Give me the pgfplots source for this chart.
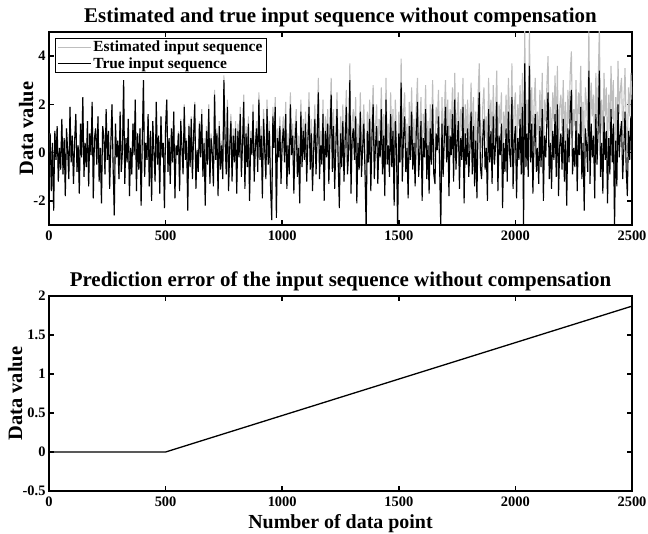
\documentclass[border=0pt]{standalone}
\usepackage{fontspec}
\setmainfont{Liberation Serif}
\usepackage{pgfplots}
\usepackage{pgfplotstable}
\pgfplotsset{compat=1.18}
\definecolor{estgray}{RGB}{190,190,190}
\pgfplotstableread{
x t e
5 0.8 0.8
10 -1.6 -1.6
15 0.4 0.4
20 -2.4 -2.4
25 0.9 0.9
30 -0.3 -0.3
35 1.1 1.1
40 -1.2 -1.2
45 0.2 0.2
50 -0.7 -0.7
55 1.4 1.4
60 -0.9 -0.9
65 0.6 0.6
70 -1.8 -1.8
75 1.0 1.0
80 0.1 0.1
85 -1.1 -1.1
90 1.9 1.9
95 -0.4 -0.4
100 0.7 0.7
105 -1.3 -1.3
110 0.5 0.5
115 1.6 1.6
120 -0.8 -0.8
125 0.3 0.3
130 -1.7 -1.7
135 1.2 1.2
140 -0.2 -0.2
145 2.3 2.3
150 -1.0 -1.0
155 0.4 0.4
160 -0.6 -0.6
165 1.3 1.3
170 -1.4 -1.4
175 0.8 0.8
180 -0.1 -0.1
185 2.1 2.1
190 -1.9 -1.9
195 0.6 0.6
200 1.0 1.0
205 -0.5 -0.5
210 1.5 1.5
215 -1.2 -1.2
220 0.2 0.2
225 -2.1 -2.1
230 1.1 1.1
235 0.7 0.7
240 -0.9 -0.9
245 1.8 1.8
250 -0.3 -0.3
255 0.9 0.9
260 -1.5 -1.5
265 0.3 0.3
270 2.0 2.0
275 -0.6 -0.6
280 -2.6 -2.6
285 1.2 1.2
290 -0.2 -0.2
295 0.5 0.5
300 -1.1 -1.1
305 1.7 1.7
310 -0.8 -0.8
315 0.1 0.1
320 3.0 3.0
325 -1.3 -1.3
330 0.6 0.6
335 -0.4 -0.4
340 1.4 1.4
345 -1.8 -1.8
350 0.2 0.2
355 -0.9 -0.9
360 1.2 1.2
365 -0.1 -0.1
370 2.2 2.2
375 -1.6 -1.6
380 0.8 0.8
385 -0.7 -0.7
390 1.0 1.0
395 -2.2 -2.2
400 0.5 0.5
405 3.0 3.0
410 -1.0 -1.0
415 0.4 0.4
420 -0.3 -0.3
425 1.6 1.6
430 -1.4 -1.4
435 0.9 0.9
440 -2.0 -2.0
445 1.3 1.3
450 0.0 0.0
455 -1.2 -1.2
460 2.1 2.1
465 -0.5 -0.5
470 0.7 0.7
475 -1.7 -1.7
480 1.5 1.5
485 -0.2 -0.2
490 0.4 0.4
495 -2.3 -2.3
500 1.1 1.1
505 2.2 2.2
510 -0.8 -0.8
515 0.6 0.6
520 -1.3 -1.3
525 1.0 1.0
530 -0.4 -0.4
535 1.7 1.7
540 -1.9 -1.9
545 0.3 0.3
550 -0.1 -0.1
555 0.8 0.9
560 -1.6 -1.5
565 1.3 1.4
570 0.2 0.3
575 -0.9 -0.8
580 1.9 2.0
585 -0.3 -0.2
590 0.5 0.6
595 -2.4 -2.3
600 1.1 1.2
605 -0.6 -0.5
610 1.4 1.5
615 -1.1 -1.0
620 0.7 0.8
625 2.0 2.1
630 -1.5 -1.4
635 0.1 0.2
640 -0.8 -0.7
645 1.2 1.3
650 -0.2 -0.1
655 1.6 1.8
660 -1.0 -0.8
665 0.4 0.6
670 -2.2 -2.0
675 0.9 1.1
680 -0.5 -0.3
685 1.8 2.0
690 -1.3 -1.1
695 0.6 0.8
700 0.0 0.2
705 -1.4 -1.2
710 2.4 2.6
715 -0.3 -0.1
720 0.8 1.0
725 -1.8 -1.6
730 1.1 1.3
735 -0.7 -0.5
740 0.3 0.5
745 -1.1 -0.9
750 3.0 3.2
755 0.5 0.8
760 -0.9 -0.6
765 1.9 2.2
770 -1.6 -1.3
775 0.2 0.5
780 1.3 1.6
785 -1.2 -0.9
790 0.7 1.0
795 -0.4 -0.1
800 1.0 1.3
805 -1.7 -1.4
810 0.9 1.2
815 -0.2 0.1
820 1.6 1.9
825 -1.0 -0.7
830 0.4 0.7
835 2.1 2.4
840 -1.5 -1.2
845 0.8 1.1
850 -0.6 -0.3
855 1.2 1.5
860 -2.0 -1.7
865 0.6 0.9
870 -0.1 0.2
875 1.7 2.0
880 -1.2 -0.9
885 0.3 0.6
890 1.0 1.3
895 -0.8 -0.5
900 2.2 2.5
905 -0.3 0.1
910 0.7 1.1
915 -1.9 -1.5
920 1.4 1.8
925 0.1 0.5
930 -1.1 -0.7
935 1.8 2.2
940 -0.5 -0.1
945 0.9 1.3
950 -1.4 -1.0
955 -2.8 -2.4
960 1.5 1.9
965 0.2 0.6
970 1.9 2.3
975 -2.7 -2.3
980 0.6 1.0
985 -0.2 0.2
990 1.1 1.5
995 -1.3 -0.9
1000 0.4 0.8
1005 1.0 1.5
1010 -0.4 0.1
1015 1.6 2.1
1020 -1.5 -1.0
1025 0.3 0.8
1030 -0.9 -0.4
1035 2.0 2.5
1040 -0.1 0.4
1045 0.7 1.2
1050 -1.7 -1.2
1055 0.5 1.0
1060 1.3 1.8
1065 -1.0 -0.5
1070 0.2 0.7
1075 -2.1 -1.6
1080 1.7 2.2
1085 -0.6 -0.1
1090 0.9 1.4
1095 -0.3 0.2
1100 1.2 1.7
1105 -1.2 -0.6
1110 0.4 1.0
1115 1.9 2.5
1120 -0.7 -0.1
1125 0.8 1.4
1130 -1.6 -1.0
1135 0.1 0.7
1140 1.4 2.0
1145 -0.9 -0.3
1150 0.6 1.2
1155 2.5 3.1
1160 -1.1 -0.5
1165 0.3 0.9
1170 -0.5 0.1
1175 1.6 2.2
1180 -2.0 -1.4
1185 0.9 1.5
1190 -0.2 0.4
1195 1.2 1.8
1200 -1.3 -0.7
1205 0.7 1.4
1210 2.4 3.1
1215 -0.8 -0.1
1220 1.1 1.8
1225 -1.5 -0.8
1230 0.2 0.9
1235 1.8 2.5
1240 -0.4 0.3
1245 -2.3 -1.6
1250 0.8 1.5
1255 -0.6 0.1
1260 1.3 2.0
1265 -1.2 -0.5
1270 0.5 1.2
1275 1.9 2.6
1280 -0.9 -0.2
1285 0.0 0.7
1290 3.0 3.7
1295 -1.7 -1.0
1300 0.6 1.3
1305 1.0 1.8
1310 -0.3 0.5
1315 1.5 2.3
1320 -2.1 -1.3
1325 0.4 1.2
1330 -0.7 0.1
1335 1.7 2.5
1340 -1.0 -0.2
1345 0.2 1.0
1350 1.2 2.0
1355 -0.8 0.0
1360 -3.2 -2.4
1365 0.9 1.7
1370 -0.4 0.4
1375 1.4 2.2
1380 -1.6 -0.8
1385 0.6 1.4
1390 2.0 2.8
1395 -1.1 -0.3
1400 0.3 1.1
1405 1.1 2.0
1410 -1.3 -0.4
1415 0.5 1.4
1420 -0.2 0.7
1425 1.8 2.7
1430 -0.9 0.0
1435 0.7 1.6
1440 -1.8 -0.9
1445 2.2 3.1
1450 -0.5 0.4
1455 0.3 1.2
1460 -1.0 -0.1
1465 1.6 2.5
1470 -0.6 0.3
1475 0.9 1.8
1480 -2.2 -1.3
1485 1.3 2.2
1490 0.1 1.0
1495 -3.2 -2.3
1500 0.8 1.7
1505 -0.4 0.6
1510 2.9 3.9
1515 -1.2 -0.2
1520 0.6 1.6
1525 1.5 2.5
1530 -0.8 0.2
1535 0.2 1.2
1540 -1.9 -0.9
1545 1.1 2.1
1550 -0.3 0.7
1555 1.7 2.7
1560 -0.7 0.3
1565 0.4 1.4
1570 -1.4 -0.4
1575 0.9 1.9
1580 2.1 3.1
1585 -1.0 0.0
1590 0.0 1.0
1595 1.3 2.3
1600 -2.0 -1.0
1605 0.6 1.6
1610 -0.2 0.8
1615 1.8 2.8
1620 -1.1 -0.1
1625 0.3 1.3
1630 -1.7 -0.7
1635 1.0 2.0
1640 -0.5 0.5
1645 2.0 3.0
1650 -0.9 0.1
1655 -1.3 -0.2
1660 0.8 1.9
1665 0.1 1.2
1670 1.5 2.6
1675 -0.6 0.5
1680 -3.2 -2.1
1685 1.2 2.3
1690 -1.0 0.1
1695 0.5 1.6
1700 1.9 3.0
1705 -0.4 0.7
1710 1.1 2.2
1715 -1.8 -0.7
1720 0.7 1.8
1725 -0.1 1.0
1730 1.6 2.7
1735 -1.2 -0.1
1740 2.2 3.3
1745 -0.7 0.4
1750 0.4 1.5
1755 1.3 2.5
1760 -1.5 -0.3
1765 0.6 1.8
1770 -0.3 0.9
1775 1.9 3.1
1780 -2.1 -0.9
1785 0.8 2.0
1790 -0.5 0.7
1795 1.0 2.2
1800 -1.0 0.2
1805 0.2 1.4
1810 1.7 2.9
1815 -0.9 0.3
1820 1.1 2.3
1825 -1.4 -0.2
1830 0.5 1.7
1835 -1.9 -0.7
1840 1.2 2.4
1845 2.5 3.7
1850 -0.6 0.6
1855 -1.1 0.2
1860 0.6 1.9
1865 1.4 2.7
1870 -0.7 0.6
1875 0.2 1.5
1880 -2.0 -0.7
1885 1.8 3.1
1890 -0.4 0.9
1895 0.9 2.2
1900 -1.3 0.0
1905 1.5 2.8
1910 -0.5 0.8
1915 0.3 1.6
1920 2.1 3.4
1925 -1.6 -0.3
1930 0.7 2.0
1935 -0.1 1.2
1940 1.2 2.5
1945 -2.3 -1.0
1950 0.4 1.7
1955 -0.8 0.6
1960 1.0 2.4
1965 -1.2 0.2
1970 1.7 3.1
1975 0.0 1.4
1980 -0.6 0.8
1985 2.3 3.7
1990 -1.5 -0.1
1995 0.5 1.9
2000 1.1 2.5
2005 -1.9 -0.5
2010 0.6 2.0
2015 -0.3 1.1
2020 1.4 2.8
2025 -0.9 0.5
2030 1.9 3.3
2035 -3.1 -1.7
2040 3.7 5.1
2045 -0.6 0.8
2050 0.8 2.2
2055 -1.0 0.5
2060 3.6 5.1
2065 -0.4 1.1
2070 1.2 2.7
2075 -1.7 -0.2
2080 0.5 2.0
2085 1.6 3.1
2090 -0.8 0.7
2095 0.2 1.7
2100 -1.3 0.2
2105 1.1 2.6
2110 -0.6 0.9
2115 1.8 3.3
2120 -2.0 -0.5
2125 0.7 2.2
2130 -0.2 1.3
2135 1.3 2.8
2140 2.5 4.0
2145 -1.1 0.4
2150 0.4 1.9
2155 -1.5 0.1
2160 0.9 2.5
2165 -0.3 1.3
2170 1.6 3.2
2175 -1.0 0.6
2180 2.0 3.6
2185 -1.8 -0.2
2190 0.3 1.9
2195 0.8 2.4
2200 -0.7 0.9
2205 1.4 3.0
2210 -1.2 0.4
2215 0.5 2.1
2220 -2.2 -0.6
2225 1.0 2.6
2230 -0.4 1.2
2235 1.7 3.3
2240 2.6 4.2
2245 -0.9 0.7
2250 0.2 1.8
2255 -0.6 1.1
2260 1.3 3.0
2265 -1.6 0.1
2270 0.8 2.5
2275 -0.1 1.6
2280 1.9 3.6
2285 -1.1 0.6
2290 0.4 2.1
2295 -2.4 -0.7
2300 1.0 2.7
2305 0.3 2.0
2310 -0.8 0.9
2315 3.4 5.1
2320 -1.3 0.4
2325 1.2 2.9
2330 -0.2 1.5
2335 0.7 2.4
2340 -1.9 -0.2
2345 1.6 3.3
2350 -0.5 1.2
2355 1.1 2.9
2360 3.4 5.2
2365 -1.0 0.8
2370 0.4 2.2
2375 -1.7 0.1
2380 1.5 3.3
2385 -0.3 1.5
2390 0.9 2.7
2395 -2.1 -0.3
2400 0.6 2.4
2405 -0.9 0.9
2410 1.8 3.6
2415 -0.4 1.4
2420 1.2 3.0
2425 -3.2 -1.4
2430 0.5 2.3
2435 -1.4 0.4
2440 2.0 3.8
2445 -0.2 1.6
2450 0.8 2.6
2455 1.3 3.1
2460 -1.1 0.7
2465 0.2 2.0
2470 1.7 3.5
2475 -0.7 1.1
2480 -1.8 0.0
2485 0.9 2.7
2490 -0.3 1.5
2495 1.5 3.3
2500 0.4 2.2
}\datatab
\pgfplotsset{
  mystyle/.style={
    scale only axis, width=583bp, height=193bp,
    xmin=0, xmax=2500,
    xtick={0,500,1000,1500,2000,2500},
    tick align=inside, tick pos=both,
    major tick length=5bp,
    axis line style={line width=1.5bp},
    every tick/.style={line width=1.5bp, black},
    ticklabel style={font=\fontsize{14.5}{16}\selectfont\bfseries},
    xticklabel style={anchor=base, yshift=-16bp, inner sep=0pt},
    /pgf/number format/assume math mode=true,
    /pgf/number format/1000 sep={},
    scaled ticks=false,
    every axis title shift=0pt,
    title style={font=\fontsize{21}{23}\selectfont\bfseries,
      at={(axis description cs:0.5,1)}, anchor=base, yshift=9.5bp},
    label style={font=\fontsize{20.5}{22}\selectfont\bfseries},
    clip=true,
  }
}
\begin{document}
\begin{tikzpicture}[x=1bp,y=1bp]
\useasboundingbox (0,0) rectangle (648,534);
\begin{axis}[mystyle,
  at={(49bp,309bp)}, anchor=south west,
  ymin=-3, ymax=5, ytick={-2,0,2,4},
  title={Estimated and true input sequence without compensation},
  ylabel={Data value},
  ylabel style={at={(axis description cs:-0.0274,0.5)}, anchor=base},
  legend style={at={(rel axis cs:0.0103,0.969)}, anchor=north west,
    draw=black, line width=0.6bp, fill=white,
    font=\fontsize{15.5}{17}\selectfont\bfseries,
    inner xsep=2bp, inner ysep=1bp, row sep=0bp},
  legend cell align=left,
  legend image code/.code={\path (0bp,0bp) -- (33bp,0bp);
    \draw[#1] (3bp,0bp) -- (27bp,0bp);},
]
\addplot[estgray, line width=1.1bp] table[x=x, y=e] {\datatab};
\addlegendentry{Estimated input sequence\hspace{12bp}}
\addplot[black, line width=1.1bp] table[x=x, y=t] {\datatab};
\addlegendentry{True input sequence}
\end{axis}
\begin{axis}[mystyle,
  at={(49bp,43bp)}, anchor=south west,
  height=195bp,
  ymin=-0.5, ymax=2, ytick={-0.5,0,0.5,1,1.5,2},
  title={Prediction error of the input sequence without compensation},
  ylabel={Data value},
  ylabel style={at={(axis description cs:-0.0463,0.5)}, anchor=base},
  xlabel={Number of data point},
  xlabel style={at={(axis description cs:0.5,0)}, anchor=base, yshift=-38bp,
    inner sep=0pt, font=\fontsize{20}{22}\selectfont\bfseries},
]
\addplot[black, line width=1.3bp] coordinates {(0,0) (500,0) (2500,1.87)};
\end{axis}
\end{tikzpicture}
\end{document}
